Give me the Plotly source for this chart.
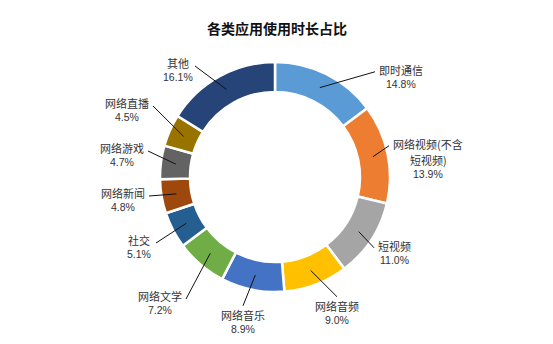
import math
import plotly.graph_objects as go

categories = ["即时通信", "网络视频(不含|短视频)", "短视频", "网络音频", "网络音乐",
              "网络文学", "社交", "网络新闻", "网络游戏", "网络直播", "其他"]
values = [14.8, 13.9, 11.0, 9.0, 8.9, 7.2, 5.1, 4.8, 4.7, 4.5, 16.1]
colors = ["#5B9BD5", "#ED7D31", "#A5A5A5", "#FFC000", "#4472C4", "#70AD47",
          "#255E91", "#9E480E", "#636363", "#997300", "#264478"]

W, H = 553, 344
cx, cy, R, r_in = 275, 177, 115, 85
# label centres (pixels) and the side where the leader line attaches - layout only
label_pos = [(401, 77), (428, 159), (394, 253), (337, 313), (243, 322), (160, 303),
             (139, 247), (123, 200), (122, 155), (127, 110), (178, 70)]
label_side = ["l", "l", "l", "t", "t", "r", "r", "r", "r", "r", "r"]
label_hw = [23, 36, 17, 23, 23, 23, 14, 23, 23, 23, 14]

fig = go.Figure(go.Pie(
    labels=[c.replace("|", "") for c in categories], values=values, sort=False,
    direction="clockwise", rotation=0,
    hole=r_in / R, textinfo="none", hoverinfo="skip",
    marker=dict(colors=colors, line=dict(color="white", width=2.5)),
    domain=dict(x=[(cx - R) / W, (cx + R) / W], y=[(H - cy - R) / H, (H - cy + R) / H]),
    showlegend=False,
))

total = sum(values)
cum = 0
annotations = []
shapes = []
for cat, v, (lx, ly), side, hw in zip(categories, values, label_pos, label_side, label_hw):
    mid = (cum + v / 2) / total * 2 * math.pi
    cum += v
    rm = (R + r_in) / 2
    tx = cx + rm * math.sin(mid)
    ty = cy - rm * math.cos(mid)
    lines = cat.split("|") + [f"{v:.1f}%"]
    n = len(lines)
    gaps = [16.0 if i < n - 2 else 14.5 for i in range(n - 1)]
    ys = [0.0]
    for g in gaps:
        ys.append(ys[-1] + g)
    top = ly - ys[-1] / 2
    for i, t in enumerate(lines):
        is_pct = i == n - 1
        annotations.append(dict(
            x=lx / W, y=1 - (top + ys[i]) / H, xref="paper", yref="paper",
            xanchor="center", yanchor="middle", text=t, showarrow=False,
            font=dict(family="Liberation Sans" if is_pct else "Noto Sans CJK SC",
                      size=10.5 if is_pct else 11, color="#333"),
        ))
    if side == "l":
        ex, ey = lx - hw - 3, top + 2
    elif side == "r":
        ex, ey = lx + hw + 3, ly - 4
    else:
        ex, ey = lx, top - 9
    shapes.append(dict(type="line", xref="paper", yref="paper",
                       x0=tx / W, y0=1 - ty / H, x1=ex / W, y1=1 - ey / H,
                       line=dict(color="#111", width=1)))

annotations.append(dict(
    x=277 / W, y=1 - 28 / H, xref="paper", yref="paper", showarrow=False,
    xanchor="center", yanchor="middle",
    text="<b>各类应用使用时长占比</b>",
    font=dict(family="Noto Sans CJK SC", size=14, color="#111"),
))

fig.update_layout(
    width=W, height=H, margin=dict(l=0, r=0, t=0, b=0),
    paper_bgcolor="white", plot_bgcolor="white",
    annotations=annotations, shapes=shapes,
)
fig.write_html("out.html")
